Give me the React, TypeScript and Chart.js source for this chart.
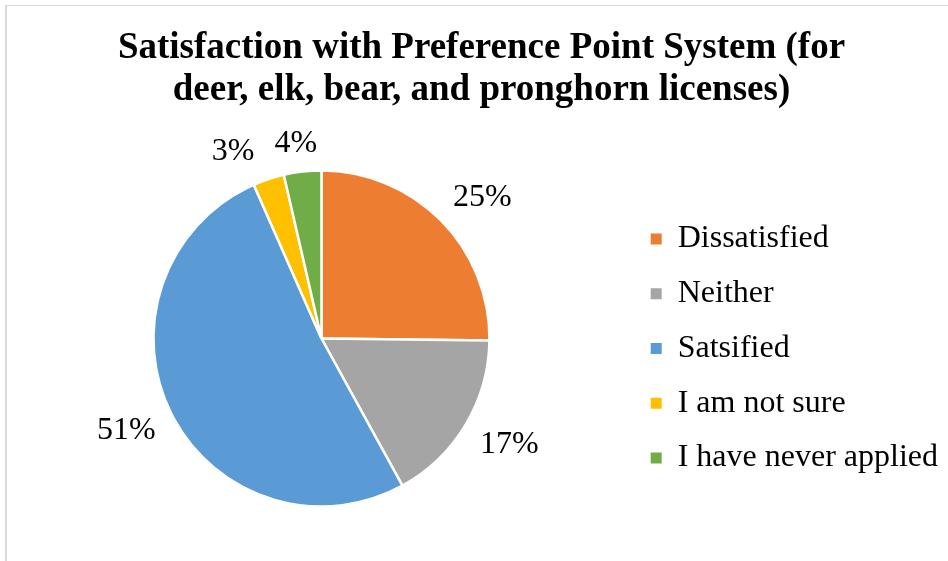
import React, { useEffect, useRef } from 'react';
import { Chart, registerables } from 'chart.js';

Chart.register(...registerables);

const TITLE_LINES = [
  'Satisfaction with Preference Point System (for',
  'deer, elk, bear, and pronghorn licenses)',
];
const CATEGORIES = ['Dissatisfied', 'Neither', 'Satsified', 'I am not sure', 'I have never applied'];
const VALUES = [25.2, 16.8, 51.4, 3.0, 3.6];
const COLORS = ['#ED7D31', '#A5A5A5', '#5B9BD5', '#FFC000', '#70AD47'];

const SERIF = "'Liberation Serif', 'Times New Roman', serif";

const clamp = (v: number) => Math.max(-1, Math.min(1, v));

const outsideLabels = {
  id: 'outsideLabels',
  afterDatasetsDraw(chart: any) {
    const ctx = chart.ctx;
    const meta = chart.getDatasetMeta(0);
    const data = chart.data.datasets[0].data as number[];
    const total = data.reduce((a, b) => a + b, 0);
    ctx.save();
    ctx.font = `32px ${SERIF}`;
    ctx.fillStyle = '#000';
    ctx.textAlign = 'center';
    ctx.textBaseline = 'middle';
    const pad = 17;
    const halfH = 11;
    const boxes = meta.data.map((arc: any, i: number) => {
      const p = arc.getProps(['x', 'y', 'startAngle', 'endAngle', 'outerRadius'], true);
      const mid = (p.startAngle + p.endAngle) / 2;
      const cx = Math.cos(mid);
      const cy = Math.sin(mid);
      const text = Math.round((data[i] / total) * 100) + '%';
      const w = ctx.measureText(text).width;
      const r = p.outerRadius + pad;
      return {
        text,
        w,
        x: p.x + r * cx + clamp(cx * 2) * (w / 2),
        y: p.y + r * cy + clamp(cy * 2) * halfH,
      };
    });
    // simple collision resolution: push the left label of an overlapping pair leftwards
    const gap = 20;
    for (let i = 0; i < boxes.length; i++) {
      for (let j = 0; j < boxes.length; j++) {
        if (i === j) continue;
        const a = boxes[i];
        const b = boxes[j];
        if (a.x <= b.x && Math.abs(a.y - b.y) < 2 * halfH + 4) {
          const need = a.x + a.w / 2 + gap - (b.x - b.w / 2);
          if (need > 0) a.x -= need;
        }
      }
    }
    boxes.forEach((b: any) => ctx.fillText(b.text, b.x, b.y));
    ctx.restore();
  },
};

export default function App() {
  const ref = useRef<HTMLCanvasElement>(null);
  useEffect(() => {
    if (!ref.current) return;
    const chart = new Chart(ref.current, {
      type: 'pie',
      data: {
        labels: CATEGORIES,
        datasets: [
          {
            data: VALUES,
            backgroundColor: COLORS,
            borderColor: '#ffffff',
            borderWidth: 2.5,
            radius: 168,
          } as any,
        ],
      },
      options: {
        responsive: false,
        animation: false,
        devicePixelRatio: 1,
        layout: { padding: { left: 15, right: 0, top: 0, bottom: 0 } },
        plugins: {
          tooltip: { enabled: false },
          title: {
            display: true,
            text: TITLE_LINES,
            color: '#000',
            font: { family: SERIF, size: 37, weight: 'bold', lineHeight: 41.5 / 37 },
            padding: { top: 28, bottom: 5 },
          },
          legend: {
            position: 'right',
            fullSize: false,
            title: {
              display: true,
              text: '',
              font: { size: 10, lineHeight: 1 },
              padding: { top: 5, bottom: 5 },
            },
            labels: {
              boxWidth: 11,
              boxHeight: 11,
              padding: 22.75,
              color: '#000',
              font: { family: SERIF, size: 32 },
              generateLabels: (c: any) =>
                (Chart as any).overrides.pie.plugins.legend.labels
                  .generateLabels(c)
                  .map((l: any) => ({ ...l, lineWidth: 0 })),
            },
          },
        },
      } as any,
      plugins: [outsideLabels],
    });
    return () => chart.destroy();
  }, []);

  return (
    <div
      style={{
        position: 'fixed',
        left: 0,
        top: 0,
        width: 948,
        height: 561,
        overflow: 'hidden',
        background: '#fff',
      }}
    >
      <div
        style={{
          position: 'absolute',
          left: 5,
          top: 5,
          width: 1000,
          height: 1000,
          borderTop: '1px solid #d9d9d9',
          borderLeft: '2px solid #d9d9d9',
        }}
      />
      <canvas
        ref={ref}
        width={948}
        height={561}
        style={{ position: 'absolute', left: 0, top: 0, width: 948, height: 561 }}
      />
    </div>
  );
}
